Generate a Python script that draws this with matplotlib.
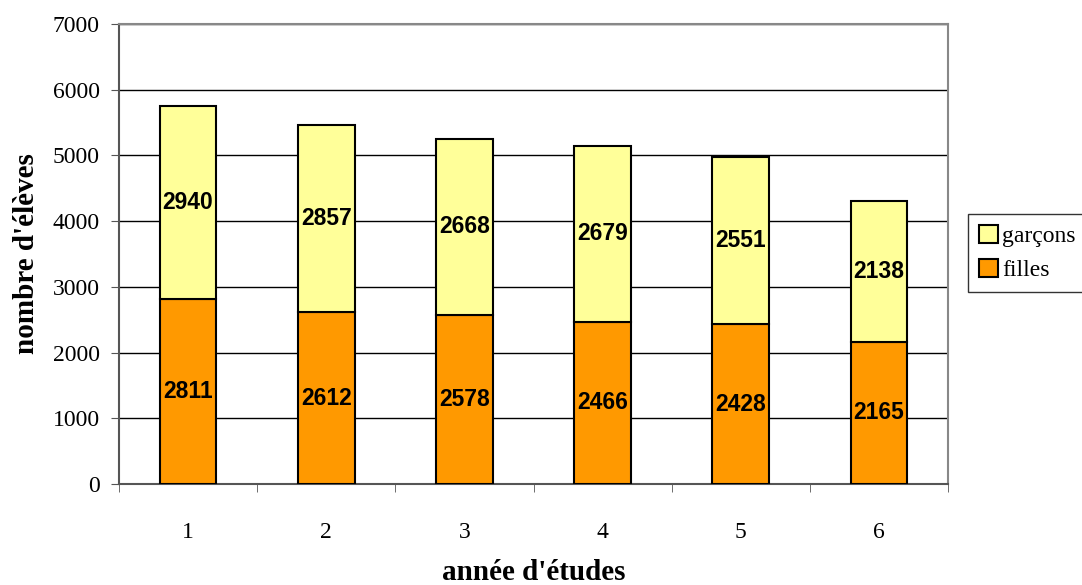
import matplotlib.pyplot as plt
import numpy as np

annees = ['1', '2', '3', '4', '5', '6']
filles = [2811, 2612, 2578, 2466, 2428, 2165]
garcons = [2940, 2857, 2668, 2679, 2551, 2138]

serif = ['Liberation Serif', 'DejaVu Serif']
sans = ['Liberation Sans', 'DejaVu Sans']

fig = plt.figure(figsize=(10.82, 5.85), dpi=100, facecolor='w')
ax = fig.add_axes([119 / 1082, 1 - 484 / 585, 829 / 1082, 460 / 585])

x = np.arange(len(annees))
w = 0.41
b1 = ax.bar(x, filles, w, color='#FF9900', edgecolor='black', lw=1.5, label='filles', zorder=3)
b2 = ax.bar(x, garcons, w, bottom=filles, color='#FFFF99', edgecolor='black', lw=1.5,
            label='garçons', zorder=3)

for i in range(len(annees)):
    ax.text(x[i], filles[i] / 2, str(filles[i]), ha='center', va='center',
            fontsize=16.5, fontweight='bold', family=sans, zorder=4)
    ax.text(x[i], filles[i] + garcons[i] / 2, str(garcons[i]), ha='center', va='center',
            fontsize=16.5, fontweight='bold', family=sans, zorder=4)

ax.set_xlim(-0.5, len(annees) - 0.5)
ax.set_ylim(0, 7000)
ax.set_yticks(range(0, 7001, 1000))
ax.yaxis.grid(True, color='black', lw=1, zorder=0)
ax.set_xticks(x)
ax.set_xticklabels(annees)
ax.set_xticks(np.arange(-0.5, len(annees)), minor=True)
ax.tick_params(axis='x', which='major', length=0, pad=27)
ax.tick_params(axis='x', which='minor', length=6, direction='out', color='#555555')
ax.tick_params(axis='y', length=6, direction='out', color='#555555', pad=8)
for lab in ax.get_xticklabels() + ax.get_yticklabels():
    lab.set_family(serif)
    lab.set_fontsize(17)

for s in ['top', 'right']:
    ax.spines[s].set_color('#888888')
for s in ['left', 'bottom']:
    ax.spines[s].set_color('#555555')
for s in ax.spines.values():
    s.set_linewidth(1.5)

ax.set_ylabel("nombre d'élèves", family=serif, fontsize=21, fontweight='bold', labelpad=9)
ax.set_xlabel("année d'études", family=serif, fontsize=21, fontweight='bold', labelpad=12)

leg = fig.legend(handles=[b2, b1], loc='upper left', bbox_to_anchor=(968 / 1082, 1 - 214 / 585),
                 prop={'family': serif, 'size': 17}, frameon=True, fancybox=False,
                 edgecolor='black', handlelength=0.8, handleheight=0.8, handletextpad=0.2,
                 borderpad=0.45, labelspacing=0.5, borderaxespad=0)
leg.get_frame().set_linewidth(1)

fig.savefig('out.png', dpi=100, facecolor='w')
